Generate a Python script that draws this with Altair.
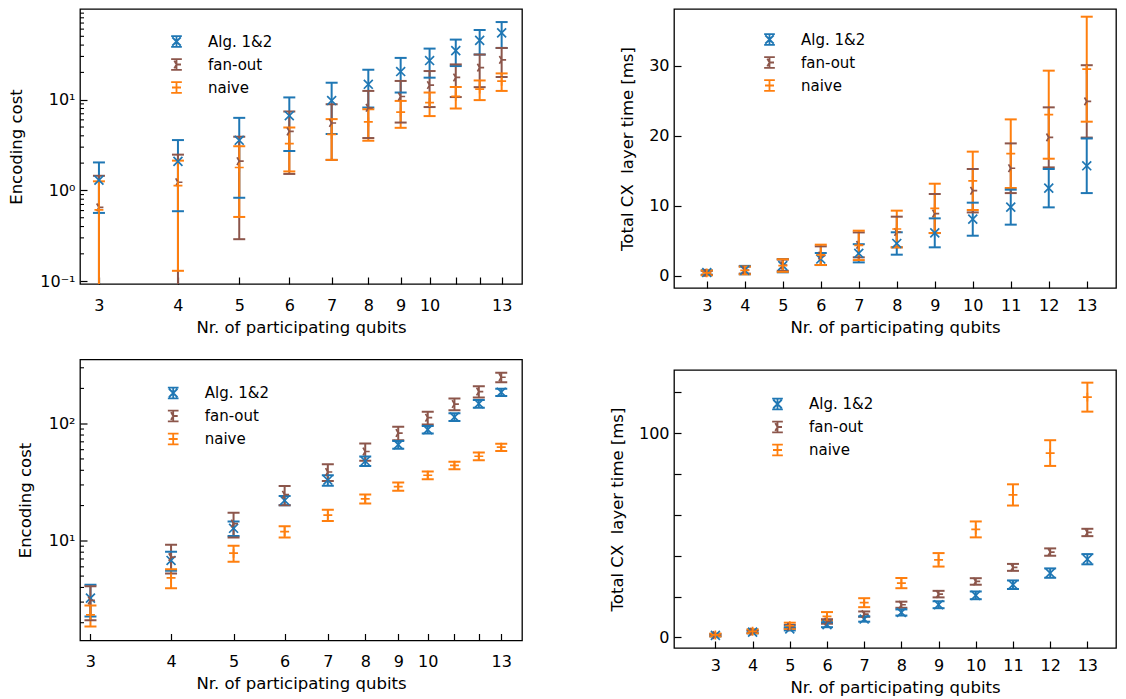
import altair as alt
import pandas as pd

qubits = [3, 4, 5, 6, 7, 8, 9, 10, 11, 12, 13]
series_names = ["Alg. 1&2", "fan-out", "naive"]
series_colors = ["#1f77b4", "#8c564b", "#ff7f0e"]

# top-left: encoding cost (log)
tl_alg_mean = [1.30, 2.09, 3.57, 6.66, 9.79, 14.8, 20.45, 27.05, 34.75, 45.1, 54.5]
tl_alg_err = [0.735, 1.50, 2.74, 3.94, 5.6, 6.6, 8.45, 9.55, 11.25, 13.6, 17.3]
tl_fan_mean = [0.65, 1.23, 2.10, 4.47, 5.54, 8.14, 10.85, 14.5, 17.6, 22.6, 27.5]
tl_fan_err = [0.80, 1.25, 1.81, 2.95, 3.37, 4.36, 5.25, 6.2, 6.9, 8.85, 9.7]
tl_nai_mean = [0.61, 1.13, 1.79, 3.28, 4.14, 5.69, 7.3, 9.3, 10.9, 13.1, 16.0]
tl_nai_err = [0.65, 1.00, 1.28, 1.66, 1.97, 2.16, 2.4, 2.7, 2.9, 3.2, 3.5]

# top-right: total CX layer time (linear)
tr_alg_mean = [0.45, 0.8, 1.43, 2.38, 3.2, 4.6, 6.12, 8.07, 9.79, 12.5, 15.7]
tr_alg_err = [0.3, 0.6, 0.95, 0.86, 1.3, 1.6, 2.07, 2.36, 2.5, 2.74, 3.9]
tr_fan_mean = [0.4, 0.8, 1.5, 2.86, 4.4, 6.24, 8.88, 12.14, 15.35, 19.76, 24.9]
tr_fan_err = [0.3, 0.5, 0.8, 1.33, 1.78, 2.19, 2.79, 3.1, 3.55, 4.29, 5.17]
tr_nai_mean = [0.4, 0.75, 1.45, 2.98, 4.33, 6.67, 9.62, 13.55, 17.43, 23.0, 29.5]
tr_nai_err = [0.35, 0.55, 0.9, 1.45, 2.1, 2.62, 3.52, 4.17, 4.9, 6.29, 7.5]

# bottom-left: encoding cost (log)
bl_alg_mean = [3.24, 6.8, 12.8, 22.1, 32.9, 48.0, 66.2, 88.9, 114, 148, 185.5]
bl_alg_err = [0.98, 1.25, 1.8, 2.0, 3.4, 4.4, 5.0, 6.6, 8.5, 11, 13.5]
bl_fan_mean = [3.1, 7.26, 14.05, 24.75, 38.7, 57.9, 83.2, 112.5, 147, 188, 249]
bl_fan_err = [1.0, 2.0, 3.35, 4.65, 6.3, 9.7, 11, 14, 17, 21, 23]
bl_nai_mean = [2.33, 4.83, 7.84, 12.0, 16.6, 22.8, 29.05, 36.3, 44.1, 52.7, 63.0]
bl_nai_err = [0.47, 0.9, 1.22, 1.3, 1.8, 2.0, 2.35, 2.7, 3.3, 4.0, 4.5]

# bottom-right: total CX layer time (linear)
br_alg_mean = [1.0, 2.6, 4.2, 6.2, 9.0, 12.2, 16.0, 20.6, 25.8, 31.5, 38.3]
br_alg_err = [0.5, 0.6, 0.8, 1.2, 1.3, 1.5, 1.7, 1.9, 2.1, 2.3, 2.5]
br_fan_mean = [1.1, 2.8, 5.2, 7.8, 11.4, 16.0, 21.2, 27.4, 34.3, 41.8, 51.4]
br_fan_err = [0.5, 0.7, 0.9, 1.1, 1.3, 1.5, 1.6, 1.6, 1.7, 1.8, 1.8]
br_nai_mean = [1.2, 3.0, 5.7, 10.3, 17.0, 26.6, 38.0, 52.9, 69.8, 90.3, 117.7]
br_nai_err = [0.7, 1.0, 1.5, 2.1, 2.2, 2.5, 3.3, 3.9, 5.2, 6.3, 7.1]

# tick values
log_x_ticks = [3, 4, 5, 6, 7, 8, 9, 10, 11, 12, 13]
tl_y_major = [0.1, 1, 10]
tl_y_minor = [0.2, 0.3, 0.4, 0.5, 0.6, 0.7, 0.8, 0.9, 2, 3, 4, 5, 6, 7, 8, 9,
              20, 30, 40, 50, 60, 70, 80, 90]
bl_y_major = [10, 100]
bl_y_minor = [2, 3, 4, 5, 6, 7, 8, 9, 20, 30, 40, 50, 60, 70, 80, 90, 200, 300]
tr_y_ticks = [0, 5, 10, 15, 20, 25, 30, 35]
br_y_ticks = [0, 10, 20, 30, 40, 50, 60, 70, 80, 90, 100, 110, 120]

MARKERS = ["M-1,-1L1,1M-1,1L1,-1",
           "M0,0L1,0M0,0L-0.5,-0.866M0,0L-0.5,0.866",
           "M-1,0L1,0M0,-1L0,1"]
CAP = "M-1,0L1,0"
ERR = "M0,-1.07L0,1.07M-1.07,-1.07L1.07,-1.07M-1.07,1.07L1.07,1.07"
GLYPHS = [ERR + "M-0.85,-0.85L0.85,0.85M-0.85,0.85L0.85,-0.85",
          ERR + "M0,0L0.9,0M0,0L-0.45,-0.78M0,0L-0.45,0.78",
          ERR + "M-0.9,0L0.9,0M0,-0.9L0,0.9"]

FONT = "DejaVu Sans"
TICK = 7
INTICK = {"expr": str(-TICK)}


def make_df(means, errs, floor=None):
    rows = []
    for name, color, mk, ml, el in zip(series_names, series_colors, MARKERS, means, errs):
        for q, m, e in zip(qubits, ml, el):
            lo = m - e
            if floor is not None:
                lo = max(lo, floor)
            rows.append(dict(series=name, col=color, mk=mk, q=q, mean=m, lo=lo, hi=m + e))
    return pd.DataFrame(rows)


def make_legend(lx, ly):
    return alt.Legend(
        orient="none", legendX=lx, legendY=ly, title=None, padding=0,
        labelFont=FONT, labelFontSize=15, labelColor="black",
        labelOffset=24, rowPadding=4, symbolStrokeWidth=1.8,
    )


def make_panel(df, xscale, xaxis, yscale, yaxis, legend, width, height, minor=None):
    x = alt.X("q:Q", scale=xscale, axis=xaxis)
    stroke = alt.Stroke("col:N", scale=None)
    base = alt.Chart(df)
    rules = base.mark_rule(strokeWidth=2, clip=True).encode(
        x=x, y=alt.Y("lo:Q", scale=yscale, axis=yaxis), y2="hi:Q", stroke=stroke)
    cap_lo = base.mark_point(shape=CAP, size=144, filled=False, strokeWidth=2,
                             opacity=1, clip=True).encode(
        x=x, y=alt.Y("lo:Q", scale=yscale), stroke=stroke)
    cap_hi = base.mark_point(shape=CAP, size=144, filled=False, strokeWidth=2,
                             opacity=1, clip=True).encode(
        x=x, y=alt.Y("hi:Q", scale=yscale), stroke=stroke)
    pts = base.mark_point(filled=False, size=80, strokeWidth=1.7, opacity=1,
                          clip=True).encode(
        x=x, y=alt.Y("mean:Q", scale=yscale), stroke=stroke,
        shape=alt.Shape("mk:N", scale=None))
    # legend carrier (zero-size points) whose legend shows error-bar glyphs
    leg = base.mark_point(filled=False, size=0, strokeWidth=1.8, opacity=1,
                          clip=True).encode(
        x=x, y=alt.Y("mean:Q", scale=yscale),
        color=alt.Color("series:N", scale=alt.Scale(domain=series_names,
                                                   range=series_colors),
                        legend=legend),
        shape=alt.Shape("series:N", scale=alt.Scale(domain=series_names,
                                                   range=GLYPHS),
                        legend=legend),
    )
    layers = [rules, cap_lo, cap_hi, pts, leg]
    if minor is not None:
        mt = alt.Chart(pd.DataFrame({"v": minor})).mark_rule(
            stroke="black", strokeWidth=1.1).encode(
            y=alt.Y("v:Q", scale=yscale), x=alt.value(0), x2=alt.value(4))
        layers.append(mt)
    return alt.layer(*layers).properties(width=width, height=height)


def xaxis(log):
    expr = ("(datum.value == 11 || datum.value == 12) ? '' : '' + datum.value"
            if log else "'' + datum.value")
    return alt.Axis(values=log_x_ticks if log else qubits,
                    title="Nr. of participating qubits", labelExpr=expr,
                    domain=False, grid=False, tickSize=INTICK,
                    labelPadding=20 if log else 16.5,
                    titlePadding=6 if log else 5.5,
                    labelFlush=False, labelOverlap=False)


def yaxis(values, title, expr, title_pad):
    return alt.Axis(values=values, title=title, labelExpr=expr,
                    domain=False, grid=False, tickSize=INTICK, labelPadding=12,
                    titlePadding=title_pad, labelFlush=False, labelOverlap=False)


tl = make_panel(
    make_df([tl_alg_mean, tl_fan_mean, tl_nai_mean], [tl_alg_err, tl_fan_err, tl_nai_err], floor=1e-4),
    alt.Scale(type="log", domain=[2.8, 14.0], nice=False), xaxis(True),
    alt.Scale(type="log", domain=[0.093, 100], nice=False),
    yaxis(tl_y_major, "Encoding cost",
          "datum.value < 0.5 ? '10⁻¹' : (datum.value < 5 ? '10⁰' : '10¹')", 15),
    make_legend(89, 25), 442, 275, minor=tl_y_minor)

bl = make_panel(
    make_df([bl_alg_mean, bl_fan_mean, bl_nai_mean], [bl_alg_err, bl_fan_err, bl_nai_err], floor=1e-4),
    alt.Scale(type="log", domain=[2.89, 14.0], nice=False), xaxis(True),
    alt.Scale(type="log", domain=[1.41, 353], nice=False),
    yaxis(bl_y_major, "Encoding cost", "datum.value < 50 ? '10¹' : '10²'", 15),
    make_legend(85.7, 26), 442, 281, minor=bl_y_minor)

tr = make_panel(
    make_df([tr_alg_mean, tr_fan_mean, tr_nai_mean], [tr_alg_err, tr_fan_err, tr_nai_err]),
    alt.Scale(domain=[2.137, 13.77], nice=False, zero=False), xaxis(False),
    alt.Scale(domain=[-1.76, 38.1], nice=False, zero=False),
    yaxis(tr_y_ticks, "Total CX\u00a0 layer time [ms]",
          "datum.value % 10 == 0 ? '' + datum.value : ''", 13),
    make_legend(88, 23), 442, 279)

br = make_panel(
    make_df([br_alg_mean, br_fan_mean, br_nai_mean], [br_alg_err, br_fan_err, br_nai_err]),
    alt.Scale(domain=[1.887, 13.77], nice=False, zero=False), xaxis(False),
    alt.Scale(domain=[-5.2, 131], nice=False, zero=False),
    yaxis(br_y_ticks, "Total CX\u00a0 layer time [ms]",
          "datum.value % 50 == 0 ? '' + datum.value : ''", 13),
    make_legend(96, 26.5), 442, 278)


def indep(c):
    return c.resolve_scale(color="independent", shape="independent").resolve_legend(
        color="independent", shape="independent")


def col(a, b, sp):
    return indep(alt.concat(a, b, columns=1, spacing=sp, align="none"))


left = col(tl, bl, 21.5)
right = col(tr, br, 32)

chart = indep(alt.hconcat(left, right, spacing=85)).properties(
    padding=0
).configure(font=FONT).configure_view(
    stroke="black", strokeWidth=1.3
).configure_axis(
    labelFont=FONT, labelFontSize=16, labelColor="black",
    titleFont=FONT, titleFontSize=16.5, titleFontWeight="normal", titleColor="black",
    tickColor="black", tickWidth=1.2,
)

chart.save("out.html", embed_options={"renderer": "svg", "actions": False})
